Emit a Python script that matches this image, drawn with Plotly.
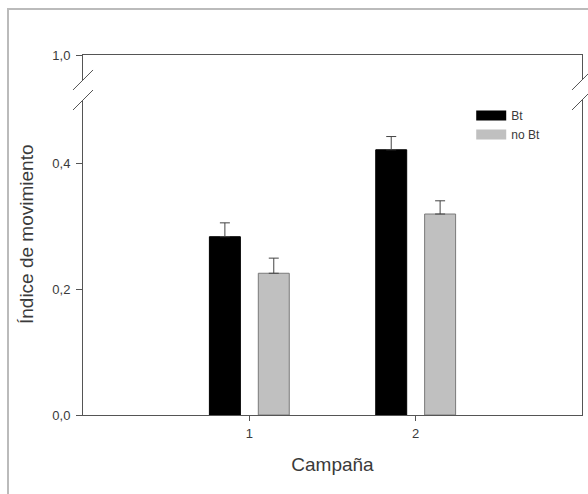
import plotly.graph_objects as go

campaigns = [1, 2]
campaign_labels = ["1", "2"]
bt_values = [0.283, 0.421]
bt_errors = [0.022, 0.021]
nobt_values = [0.225, 0.319]
nobt_errors = [0.024, 0.021]
series_names = ["Bt", "no Bt"]
y_ticks_low = [0.0, 0.2, 0.4]
y_ticks_high = [1.0]

AXIS = "#555555"
TXT = "#3a3a3a"
FONT = "Liberation Sans, Arial, sans-serif"

fig = go.Figure()
fig.add_trace(go.Bar(
    x=campaigns, y=bt_values, name=series_names[0], showlegend=False,
    marker=dict(color="#000000", line=dict(color="#000000", width=1)),
    error_y=dict(type="data", array=bt_errors, arrayminus=[0, 0], symmetric=False,
                 color="#444444", thickness=1, width=5),
))
fig.add_trace(go.Bar(
    x=campaigns, y=nobt_values, name=series_names[1], showlegend=False,
    marker=dict(color="#c0c0c0", line=dict(color="#7a7a7a", width=1)),
    error_y=dict(type="data", array=nobt_errors, arrayminus=[0, 0], symmetric=False,
                 color="#444444", thickness=1, width=5),
))
# legend entries (wide swatches)
fig.add_trace(go.Scatter(x=[None], y=[None], mode="lines", name=series_names[0],
                         line=dict(color="#000000", width=10)))
fig.add_trace(go.Scatter(x=[None], y=[None], mode="lines", name=series_names[1],
                         line=dict(color="#c0c0c0", width=10)))
# empty trace so the upper (broken) axis segment gets drawn
fig.add_trace(go.Scatter(x=[None], y=[None], xaxis="x2", yaxis="y2",
                         showlegend=False, hoverinfo="skip"))

low_top = 0.875
high_bot = 0.9306

fig.update_layout(
    width=588, height=494,
    margin=dict(l=83, r=6, t=55, b=79),
    paper_bgcolor="white", plot_bgcolor="white",
    separators=", ",
    barmode="group", bargap=0.412, bargroupgap=0.367,
    font=dict(family=FONT, color=TXT, size=12),
    showlegend=True,
    legend=dict(x=0.778, y=0.872, xanchor="left", yanchor="top",
                bgcolor="rgba(0,0,0,0)", font=dict(size=12, color=TXT),
                itemwidth=30, tracegroupgap=0),
    xaxis=dict(range=[0, 3], tickvals=campaigns, ticktext=campaign_labels,
               showline=True, linecolor=AXIS, linewidth=1, ticks="outside",
               ticklen=5, tickcolor=AXIS, showgrid=False, zeroline=False,
               anchor="y", tickfont=dict(size=13, color=TXT), ticklabelstandoff=1,
               title=dict(text="Campaña", font=dict(size=19, color=TXT), standoff=18)),
    yaxis=dict(domain=[0, low_top], range=[0, 0.5], tickvals=y_ticks_low,
               tickformat=".1f", showline=True, mirror=True, linecolor=AXIS,
               linewidth=1, ticks="outside", ticklen=6, tickcolor=AXIS,
               showgrid=False, zeroline=False, anchor="x",
               tickfont=dict(size=13, color=TXT), ticklabelstandoff=3),
    xaxis2=dict(domain=[0, 1], range=[0, 3], anchor="y2", side="top",
                showline=True, linecolor=AXIS, linewidth=1, showticklabels=False,
                ticks="", showgrid=False, zeroline=False),
    yaxis2=dict(domain=[high_bot, 1], range=[0.96, 1.0], tickvals=y_ticks_high,
                tickformat=".1f", showline=True, mirror=True, linecolor=AXIS,
                linewidth=1, ticks="outside", ticklen=6, tickcolor=AXIS,
                showgrid=False, zeroline=False, anchor="x2",
                tickfont=dict(size=13, color=TXT), ticklabelstandoff=3),
)

shapes = []
for xa in (0, 1):
    for ya in (low_top, high_bot):
        shapes.append(dict(type="line", xref="paper", yref="paper",
                           xsizemode="pixel", ysizemode="pixel",
                           xanchor=xa, yanchor=ya, x0=-10, x1=10, y0=-10, y1=10,
                           line=dict(color=AXIS, width=1)))
# outer frame
shapes.append(dict(type="rect", xref="paper", yref="paper",
                   x0=-0.1503, x1=1.03, y0=-0.24, y1=1.1278,
                   line=dict(color="#bbbbbb", width=2), layer="below"))
fig.update_layout(shapes=shapes)

fig.add_annotation(text="Índice de movimiento", xref="paper", yref="paper",
                   x=-0.112, y=0.503, textangle=-90, showarrow=False,
                   xanchor="center", yanchor="middle",
                   font=dict(size=19, color=TXT))

fig.write_html("out.html", config={"displayModeBar": False},
               post_script="document.body.style.margin='0';")
